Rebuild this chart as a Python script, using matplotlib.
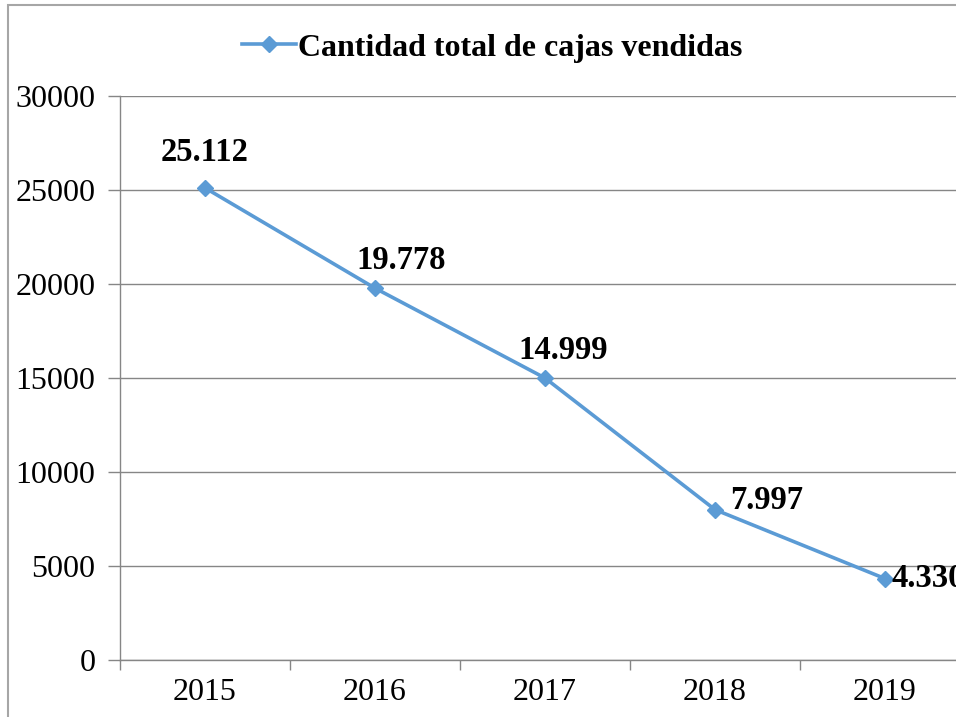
import numpy as np
import matplotlib.pyplot as plt
from matplotlib.patches import Rectangle

years = ["2015", "2016", "2017", "2018", "2019"]
cajas = [25112, 19778, 14999, 7997, 4330]
etiquetas = ["25.112", "19.778", "14.999", "7.997", "4.330"]
serie = "Cantidad total de cajas vendidas"

plt.rcParams['font.family'] = ['Liberation Serif', 'DejaVu Serif']

W, H = 956, 717
fig = plt.figure(figsize=(W / 100, H / 100), dpi=100)

# outer chart border (cut by the image on right and bottom)
fig.patches.append(Rectangle((8 / W, -0.05), 1.1, 1 - 5 / H + 0.05, transform=fig.transFigure,
                             fill=False, edgecolor='#a6a6a6', linewidth=1.5))

ax = fig.add_axes([120 / W, 57 / H, 850 / W, 564 / H])
x = np.arange(len(years))
color = '#5b9bd5'
ax.plot(x, cajas, '-D', color=color, linewidth=2.6, markersize=8, label=serie, clip_on=False)

ax.set_xlim(-0.5, len(years) - 0.5)
ax.set_ylim(0, 30000)
ax.set_yticks(np.arange(0, 30001, 5000))
ax.yaxis.grid(True, color='#868686', linewidth=1)
ax.set_axisbelow(True)

ax.set_xticks(x, years)
ax.tick_params(axis='x', which='major', length=0, pad=13, labelsize=23)
ax.set_xticks(np.arange(-0.5, len(years)), minor=True)
ax.tick_params(axis='x', which='minor', length=7, color='#868686', width=1)
ax.tick_params(axis='y', length=8.6, color='#868686', width=1, pad=9, labelsize=23)

for s in ['top', 'right']:
    ax.spines[s].set_visible(False)
for s in ['left', 'bottom']:
    ax.spines[s].set_color('#868686')
    ax.spines[s].set_linewidth(1)

offs = [(0, 35, 'center'), (26, 28, 'center'), (18, 28, 'center'), (15, 9, 'left'), (7, 0, 'left')]
for xi, yi, lab, (dx, dy, ha) in zip(x, cajas, etiquetas, offs):
    ax.annotate(lab, (xi, yi), xytext=(dx, dy), textcoords='offset pixels',
                ha=ha, va='center', fontsize=23.5, fontweight='bold', annotation_clip=False)

fig.legend(loc='center', bbox_to_anchor=(492 / W, 1 - 48 / H), frameon=False,
           prop={'size': 23, 'weight': 'bold'}, handlelength=1.7, handletextpad=0.05,
           borderpad=0)

fig.savefig('out.png', dpi=100)
